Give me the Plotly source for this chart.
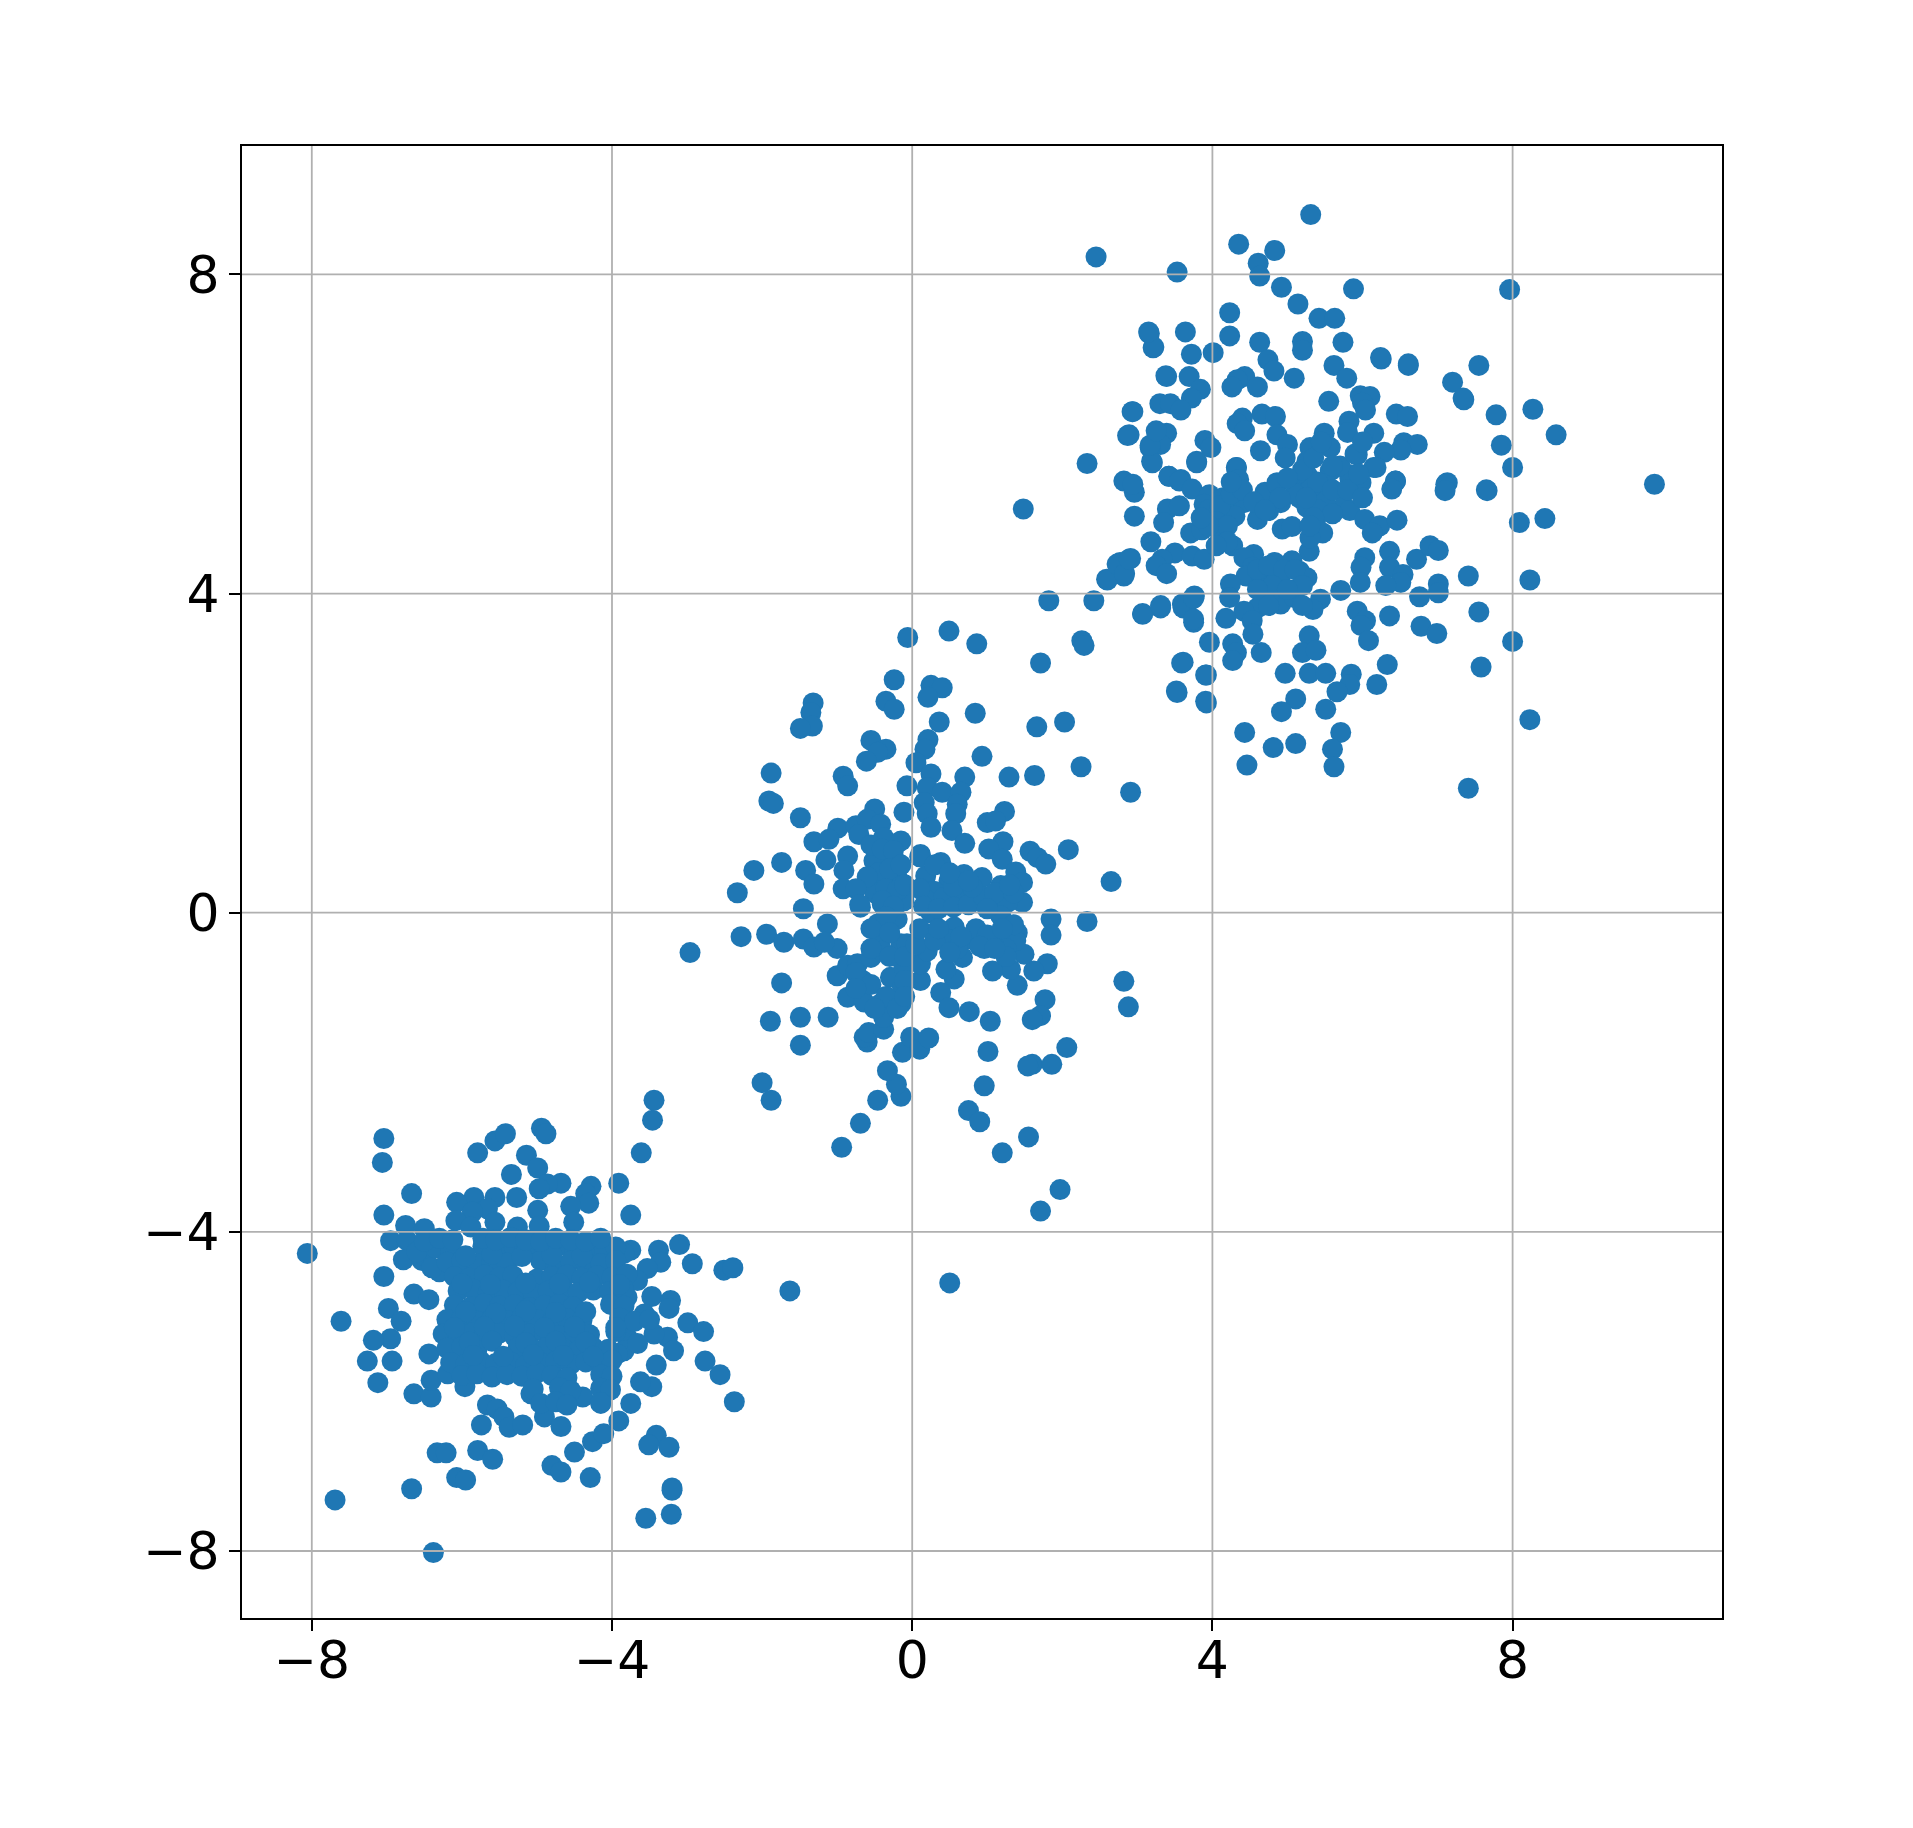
import plotly.graph_objects as go

upper_x = [5.31,4.35,4.83,2.45,4.61,3.53,4.63,4.92,5.88,5.14,4.23,5.42,5.63,3.16,3.21,3.64,4.23,5.74,4.63,5.2,5.2,3.72,4.01,4.74,6.25,6.61,5.62,5.79,7.55,3.39,3.69,4.82,4.43,5.09,4.33,4.26,4.6,3.84,7.2,7.35,3.72,5.55,5.97,6.1,6.0,6.04,3.3,3.44,3.58,2.93,6.45,6.6,4.4,4.33,4.43,4.66,4.84,4.86,5.82,5.8,6.15,3.39,2.87,5.49,3.9,3.98,6.55,6.73,6.51,6.29,3.31,3.17,3.19,4.64,3.79,2.33,5.0,5.93,5.3,5.57,4.97,5.26,4.32,3.42,5.6,5.84,6.15,6.44,7.13,2.82,4.33,4.86,5.22,3.58,
9.89,7.11,7.1,7.66,8.0,6.44,6.39,2.96,2.94,3.2,3.79,3.42,3.56,3.73,4.32,4.35,3.96,3.89,4.14,4.19,4.42,4.04,4.3,4.7,4.86,4.91,4.75,4.6,5.11,5.26,5.16,5.44,5.26,5.57,5.83,5.98,6.18,5.75,5.75,5.83,6.03,6.23,6.13,6.46,8.09,8.43,3.4,3.56,3.35,2.96,3.71,3.86,4.09,4.93,5.06,5.37,5.47,3.18,4.27,5.29,3.5,3.73,3.89,3.33,3.25,3.39,2.91,2.77,2.82,2.59,3.76,6.03,5.98,5.97,6.36,6.36,6.54,6.51,6.31,6.72,6.9,7.01,7.01,7.01,6.76,7.41,8.23,5.71,4.55,4.42,4.83,5.06,4.53,4.45,4.24,4.65,4.91,5.16,5.26,4.65,4.91,5.11,5.44,5.34,4.91,5.09,4.75,4.23,4.6,4.42,3.73,3.61,3.31,3.07,3.75,4.18,4.53,4.54,5.93,6.04,5.98,6.08,6.36,6.78,6.99,7.55,8.0,3.96,4.27,4.32,4.27,4.65,5.29,5.2,5.38,7.58,6.33,3.61,3.92,4.97,5.29,5.51,5.85,5.83,6.19,5.66,3.53,3.92,5.11,4.92,5.51,8.23,4.43,5.71,4.81,5.11,5.6,5.62,4.46,7.41,
7.65,8.27,8.58,7.85,7.78,7.34,7.96,6.61,6.24,1.48,2.89,2.94,3.17,3.25,3.38,3.22,3.15,2.42,1.82,2.26,2.29,1.71,2.6,2.73,2.83,2.89,3.07,3.31,3.6,3.75,3.75,3.59,3.52,3.91,3.91,
3.95,4.1,4.25,4.4,4.05,4.2,4.25,3.95,4.6,4.75,4.95,5.1,5.2,4.8,5.0,4.6,4.75,5.2,5.3,5.4,5.2,5.35,5.5,5.4,5.6,5.1,5.25,5.7,5.9,6.0,5.45,5.0,4.9,5.6,
5.8,6.0,5.95,5.6,4.2,4.05,3.85,4.55,4.7,5.35,5.3,5.3]
upper_y = [8.75,8.38,8.3,8.22,8.14,8.03,7.98,7.84,7.82,7.63,7.52,7.45,7.45,7.26,7.08,7.28,7.23,7.15,7.15,7.16,7.05,7.0,7.02,6.93,6.94,6.86,6.86,6.7,6.86,6.72,6.72,6.79,6.72,6.7,6.68,6.59,6.59,6.56,6.65,6.43,6.45,6.41,6.48,6.47,6.39,6.3,6.38,6.38,6.3,6.28,6.25,6.22,6.2,6.13,6.04,6.25,6.22,5.99,6.16,6.02,6.01,6.01,5.98,6.01,5.92,5.83,5.89,5.87,5.8,5.77,5.87,5.83,5.66,5.79,5.66,5.63,5.87,5.74,5.83,5.83,5.7,5.66,5.58,5.47,5.56,5.49,5.58,5.41,5.39,5.41,5.45,5.39,5.49,5.43,
5.37,5.37,5.29,5.29,5.58,5.41,5.31,5.27,5.37,5.64,5.64,5.47,5.41,5.31,5.58,5.43,5.24,5.12,5.2,5.08,5.14,4.99,4.97,5.27,5.37,5.14,5.04,4.93,5.37,5.49,5.2,5.26,5.08,5.54,5.45,5.39,5.58,5.27,5.1,5.04,4.93,4.85,4.76,4.92,4.89,4.94,5.06,5.1,4.89,4.97,4.76,4.8,4.78,4.81,4.84,4.89,4.76,4.65,4.6,4.53,4.51,4.47,4.43,4.43,4.35,4.25,4.44,4.39,4.22,4.18,3.97,4.45,4.33,4.14,4.53,4.33,4.24,4.14,4.1,4.43,4.6,4.54,4.12,4.01,3.96,4.22,4.17,4.04,4.49,4.45,4.39,4.41,4.33,4.22,4.12,4.22,4.24,4.28,4.2,4.1,4.12,4.05,3.93,3.8,3.87,3.95,3.95,3.95,3.82,3.78,3.93,3.82,3.82,3.74,3.64,3.69,3.66,3.49,3.78,3.66,3.6,3.41,3.72,3.59,3.5,3.77,3.4,3.39,3.37,3.26,3.16,3.26,3.47,3.26,3.29,3.08,3.11,3.14,2.98,3.0,3.0,3.0,2.99,2.86,2.86,2.77,2.76,2.63,2.68,2.52,2.55,2.42,2.26,2.26,2.07,2.12,2.05,1.83,1.85,1.56,
5.3,6.31,5.99,5.86,6.24,6.45,7.81,6.88,6.96,5.06,5.99,6.28,5.86,6.04,6.73,7.09,7.28,3.91,3.91,3.41,3.35,3.13,4.17,4.37,4.25,4.43,3.75,3.85,3.87,3.94,3.68,3.13,2.78,2.98,2.65,
5.05,5.1,5.25,5.3,4.9,4.85,5.4,4.85,4.3,4.35,4.3,4.3,4.1,4.1,4.05,4.05,3.85,3.85,5.3,5.4,5.55,5.7,5.15,5.05,5.3,5.25,5.2,5.6,5.75,5.9,5.9,5.45,5.2,5.0,
5.3,5.2,5.5,5.6,4.65,4.6,4.95,5.15,5.05,4.95,4.7,4.85]

middle_x = [-0.06,0.49,0.86,-0.24,0.25,0.4,0.21,-0.35,-0.24,-1.32,-1.35,-1.33,-1.49,0.84,0.36,1.66,2.03,0.21,-0.55,-0.35,-0.46,-0.61,0.17,0.93,0.05,2.25,-1.88,-0.92,-0.86,0.25,0.7,1.29,1.63,-0.07,0.2,0.4,0.65,2.91,-1.91,-1.85,0.16,0.6,-0.5,-0.11,0.2,0.58,1.23,-1.49,0.25,0.53,1.0,1.11,-0.99,-0.75,-0.6,-0.42,-0.71,-1.31,-1.11,-0.38,-0.15,0.7,1.21,1.02,1.57,2.08,1.67,1.78,-0.86,-1.15,-0.51,-0.24,0.11,0.38,1.2,-1.74,-2.11,-1.42,-0.91,1.38,2.65,-2.33,-1.31,-0.92,-0.51,-0.2,0.18,0.69,0.93,1.47,1.18,0.49,0.29,-0.38,0.65,1.09,1.47,0.82,1.27,0.2,0.42,-0.69,-0.4,-0.11,-1.45,0.25,1.85,1.18,2.33,1.85,-1.13,-0.46,-0.2,-2.28,-1.94,-1.71,-1.45,1.4,1.18,0.56,0.47,0.78,-0.42,-0.15,
-1.31,-1.0,-1.17,-1.74,-1.89,-1.49,-1.12,-1.49,2.82,2.88,1.8,1.62,1.4,1.31,1.07,1.49,1.38,0.96,0.67,0.56,0.45,0.38,0.49,0.76,1.04,1.77,1.71,1.6,1.01,2.06,1.6,1.54,1.86,0.96,0.75,0.9,1.55,1.2,1.97,1.71,0.5,-1.63,-0.94,-0.69,-0.46,-0.15,-0.21,-0.33,-0.13,-0.02,0.1,0.22,-0.6,-0.64,-0.58,-0.38,-2.0,-1.88,-1.0,-0.86,-0.66,-0.86,-0.73,-0.64,-0.55,-0.4,-0.29,-0.42,-0.15,-0.38,-0.13,-0.11,0.11,0.11,0.2,0.42,-0.07,-2.96,
-0.55,-0.4,-0.25,-0.45,-0.3,-0.15,-0.5,-0.35,-0.2,-0.4,-0.25,-0.1,0.1,0.15,0.35,0.55,0.75,0.95,1.1,0.55,0.8,1.0,1.35,-0.35,-0.55,-0.3,-0.55,-0.3,-0.1,0.05,0.1,0.3,0.6,0.85,1.0,1.25,1.35,1.25,-0.75,-0.55,-0.35,-0.2,-0.75,-0.5,-0.1,-0.1,
0.1,0.3,0.5,0.75,1.3,-0.6,-0.75,-0.7,0.35,0.65,0.9,1.1,1.2,0.5]
middle_y = [3.45,3.53,3.37,2.92,2.85,2.82,2.7,2.65,2.55,2.63,2.51,2.34,2.31,2.5,2.39,2.33,2.39,2.17,2.16,2.05,2.01,1.9,2.05,1.96,1.88,1.83,1.75,1.71,1.59,1.74,1.7,1.7,1.72,1.59,1.57,1.51,1.51,1.51,1.4,1.37,1.38,1.36,1.3,1.26,1.24,1.24,1.27,1.19,1.07,1.03,1.13,1.15,1.06,1.09,1.17,1.11,0.98,0.89,0.92,0.94,0.9,0.87,0.89,0.8,0.77,0.79,0.69,0.61,0.71,0.66,0.65,0.67,0.73,0.63,0.67,0.63,0.53,0.53,0.53,0.51,0.39,0.25,0.36,0.3,0.34,0.44,0.46,0.48,0.44,0.38,0.34,0.4,0.27,0.48,0.23,0.15,0.13,0.15,0.13,0.15,0.19,0.07,0.11,0.15,0.05,0.0,-0.08,-0.04,-0.11,-0.28,-0.14,-0.14,-0.08,-0.3,-0.27,-0.37,-0.33,-0.25,-0.33,-0.18,-0.33,-0.33,-0.33,-0.39,
-0.43,-0.45,-0.37,-0.88,-1.36,-1.31,-1.31,-1.66,-0.86,-1.18,-0.64,-0.73,-0.91,-0.71,-0.73,-0.52,-0.35,-0.45,-0.56,-0.83,-0.71,-1.0,-1.19,-1.24,-1.36,-1.09,-1.29,-1.34,-1.74,-1.69,-1.9,-1.92,-1.9,-2.17,-2.48,-2.62,-2.81,-3.01,-3.47,-3.74,-4.64,-4.74,-2.94,-2.64,-2.35,-2.3,-2.15,-1.98,-1.75,-1.56,-1.71,-1.57,-1.62,-1.56,-1.5,-1.46,-2.13,-2.35,-0.79,-0.66,-0.85,-1.06,-0.64,-1.12,-0.56,-0.48,-0.81,-1.14,-1.14,-1.31,-0.93,-0.68,-0.85,-0.64,-0.48,-0.31,-0.39,-0.5,
0.85,0.8,0.78,0.5,0.55,0.6,0.25,0.3,0.28,0.15,0.08,0.35,0.3,0.08,0.05,0.07,0.1,0.2,0.25,0.33,0.32,0.05,0.25,-0.05,-0.2,-0.25,-0.45,-0.55,-0.55,-0.4,-0.2,-0.35,-0.45,-0.2,-0.28,-0.45,-0.15,-0.55,-0.75,-0.9,-1.05,-1.2,-0.95,-1.2,-0.85,-1.05,
0.7,0.6,0.5,0.4,0.35,0.45,0.3,0.1,-0.2,-0.3,-0.42,-0.45,-0.2,-0.5]

lower_edge_x = [-7.04,-7.06,-5.79,-5.56,-5.42,-4.94,-4.88,-5.14,-4.99,-5.34,-6.67,-3.44,-3.46,-3.61,-3.91,-4.68,-4.86,-4.97,-4.28,-4.35,-4.31,-3.75,-5.27,-5.56,-5.84,-6.07,-7.04,-6.75,-6.5,-5.66,-5.86,-6.08,-5.56,-4.99,-4.55,-5.26,-4.97,-4.51,-5.88,-6.95,-6.73,-8.06,-3.75,-3.1,-3.38,-3.35,-2.93,-2.51,-2.39,-6.78,-6.53,-7.04,-6.3,-6.64,-6.44,-6.98,-6.81,-7.61,-3.47,-3.22,-3.24,-2.99,-2.78,-6.95,-7.18,-3.26,-3.53,-3.66,-3.84,-3.8,-3.88,-3.57,-3.8,-3.44,
-7.26,-6.93,-7.12,-6.64,-6.41,-6.41,-6.44,-6.19,-5.96,-5.66,-5.53,-5.44,-5.74,-5.37,-5.19,-4.9,-4.68,-4.8,-4.68,-4.5,-4.26,-4.11,-3.91,-3.75,-3.47,-3.62,-3.41,-3.18,-2.76,-2.56,-2.37,-3.41,-3.51,-3.24,-3.2,-3.2,-3.21,-3.55,-4.29,-6.33,-6.21,-5.79,-5.59,-6.07,-5.95,-6.67,-7.69,-6.38,-4.15,-4.39,-5.08,-3.84,-3.93,-3.66,
-6.5,-6.4,-6.6]
lower_edge_y = [-2.83,-3.13,-3.01,-2.86,-2.77,-2.7,-2.77,-3.04,-3.2,-3.28,-3.52,-2.35,-2.6,-3.01,-3.39,-3.39,-3.4,-3.46,-3.43,-3.52,-3.64,-3.79,-3.57,-3.57,-3.57,-3.63,-3.79,-3.92,-3.96,-3.71,-3.75,-3.86,-3.88,-3.73,-3.68,-3.94,-3.93,-3.88,-3.94,-4.11,-4.11,-4.27,-4.23,-4.16,-4.23,-4.38,-4.4,-4.48,-4.45,-4.35,-4.36,-4.56,-4.5,-4.78,-4.85,-4.96,-5.12,-5.12,-4.81,-4.86,-4.96,-5.14,-5.25,-5.34,-5.36,-5.32,-4.46,-4.61,-4.27,-4.82,-5.03,-5.03,-5.32,-5.28,
-5.62,-5.62,-5.89,-6.03,-6.07,-5.86,-5.53,-5.78,-5.94,-6.17,-6.22,-6.32,-6.42,-6.45,-6.42,-6.32,-6.44,-6.93,-7.01,-6.76,-6.63,-6.53,-6.37,-6.15,-5.94,-5.88,-5.67,-5.49,-5.62,-5.79,-6.13,-6.55,-6.67,-6.7,-7.21,-7.24,-7.54,-7.59,-7.08,-6.77,-6.77,-6.74,-6.85,-7.08,-7.11,-7.22,-7.36,-8.02,-6.15,-6.07,-6.03,-5.49,-5.53,-5.4,
-4.3,-4.45,-4.25]

lower_core_x = [-6.35,-6.15,-5.72,-5.5,-5.3,-5.1,-4.9,-4.7,-4.5,-4.3,-4.1,-3.95,
-6.2,-6.0,-5.8,-5.6,-5.4,-4.95,-4.75,-4.55,-4.35,-4.15,-3.95,
-6.1,-5.9,-5.7,-5.5,-5.32,-5.0,-4.8,-4.6,-4.4,-4.2,-4.0,-3.8,
-6.05,-5.85,-5.65,-5.45,-5.25,-5.05,-4.85,-4.65,-4.45,-4.25,-4.03,-3.85,
-6.1,-5.88,-5.7,-5.5,-5.3,-5.1,-4.9,-4.7,-4.52,-4.02,-3.84,
-6.2,-6.0,-5.8,-5.6,-5.4,-5.2,-5.0,-4.8,-4.6,-4.4,-3.9,-3.7,-3.5,
-6.25,-6.05,-5.85,-5.7,-5.5,-5.3,-5.1,-4.9,-4.7,-4.5,-4.3,-3.95,
-6.2,-6.0,-5.8,-5.25,-5.05,-4.85,-4.65,-4.45,-4.25,-4.05,
-6.15,-5.95,-5.75,-5.55,-5.35,-5.15,-4.95,-4.75,-4.55,-4.35,-4.15,-4.0,
-6.0,-5.8,-5.6,-5.4,-5.2,-5.0,-4.8,-4.6,-4.15,-4.0,
-5.05,-4.7,-4.55,-4.15,-4.02,
-4.95,-4.75,-4.6,-4.15,
-5.95,-5.6,-5.2,-4.8,-4.4,-6.0,-5.62,-5.15,-4.7,-4.3,-3.9,-5.95,-5.55,-5.15,-4.75,-4.35,-6.1,-5.7,-5.3,-4.9,-4.5,-3.95,-5.9,-5.6,-5.15,-4.75,-4.35,-5.85,-5.45,-5.05,-4.65,-4.25,
-6.5,-6.3,-6.12,-5.72,-5.55,-5.35,-5.15,-4.95,-4.75,-4.55,-4.35,-4.15]
lower_core_y = [-4.2,-4.22,-4.18,-4.21,-4.19,-4.23,-4.2,-4.17,-4.22,-4.2,-4.24,-4.19,
-4.38,-4.36,-4.4,-4.37,-4.39,-4.36,-4.41,-4.37,-4.38,-4.4,-4.36,
-4.56,-4.58,-4.54,-4.57,-4.55,-4.59,-4.56,-4.54,-4.58,-4.55,-4.57,-4.53,
-4.74,-4.72,-4.76,-4.73,-4.75,-4.77,-4.74,-4.72,-4.76,-4.73,-4.75,-4.71,
-4.92,-4.94,-4.9,-4.93,-4.91,-4.95,-4.92,-4.9,-4.94,-4.91,-4.93,
-5.1,-5.08,-5.12,-5.09,-5.11,-5.07,-5.1,-5.13,-5.09,-5.11,-5.08,-5.12,-5.1,
-5.28,-5.3,-5.26,-5.29,-5.27,-5.31,-5.28,-5.26,-5.3,-5.27,-5.29,-5.25,
-5.46,-5.44,-5.48,-5.45,-5.47,-5.43,-5.46,-5.49,-5.45,-5.47,
-5.64,-5.66,-5.62,-5.65,-5.63,-5.67,-5.64,-5.62,-5.66,-5.63,-5.65,-5.61,
-5.8,-5.78,-5.82,-5.79,-5.81,-5.77,-5.8,-5.83,-5.79,-5.81,
-5.97,-5.95,-5.99,-5.96,-5.98,
-6.15,-6.13,-6.17,-6.14,
-4.3,-4.28,-4.31,-4.29,-4.3,-4.65,-4.66,-4.64,-4.65,-4.63,-4.66,-5.0,-5.02,-4.99,-5.01,-5.0,-5.2,-5.19,-5.18,-5.2,-5.19,-5.2,-5.38,-5.37,-5.39,-5.37,-5.38,-5.55,-5.56,-5.54,-5.55,-5.56,
-4.12,-4.08,-4.1,-4.08,-4.1,-4.07,-4.1,-4.12,-4.08,-4.1,-4.12,-4.08]

tick_values = [-8, -4, 0, 4, 8]
tick_labels = ["\u22128", "\u22124", "0", "4", "8"]
x_range = [-8.93, 10.79]
y_range = [-8.84, 9.61]

all_x = upper_x + middle_x + lower_edge_x + lower_core_x
all_y = upper_y + middle_y + lower_edge_y + lower_core_y

fig = go.Figure(go.Scatter(
    x=all_x, y=all_y, mode="markers",
    marker=dict(color="#1f77b4", size=21, line=dict(width=0)),
    hoverinfo="skip", showlegend=False,
))

grid = dict(type="line", layer="above", line=dict(color="#b0b0b0", width=1.8))
shapes = [dict(grid, xref="x", yref="paper", x0=v, x1=v, y0=0, y1=1) for v in tick_values]
shapes += [dict(grid, xref="paper", yref="y", x0=0, x1=1, y0=v, y1=v) for v in tick_values]

axis = dict(
    tickmode="array", tickvals=tick_values, ticktext=tick_labels,
    showgrid=False, zeroline=False, showline=True, mirror=True,
    linecolor="black", linewidth=2, ticks="outside", ticklen=11, tickwidth=2,
    tickcolor="black", tickfont=dict(family="DejaVu Sans", size=52, color="black"),
)

fig.update_layout(
    width=1897, height=1812, autosize=False,
    margin=dict(l=234, r=183, t=138, b=202),
    paper_bgcolor="white", plot_bgcolor="white",
    xaxis=dict(axis, range=x_range, ticklabelstandoff=-15),
    yaxis=dict(axis, range=y_range, ticklabelstandoff=-1),
    shapes=shapes,
    showlegend=False,
)

fig.write_html("out.html")
